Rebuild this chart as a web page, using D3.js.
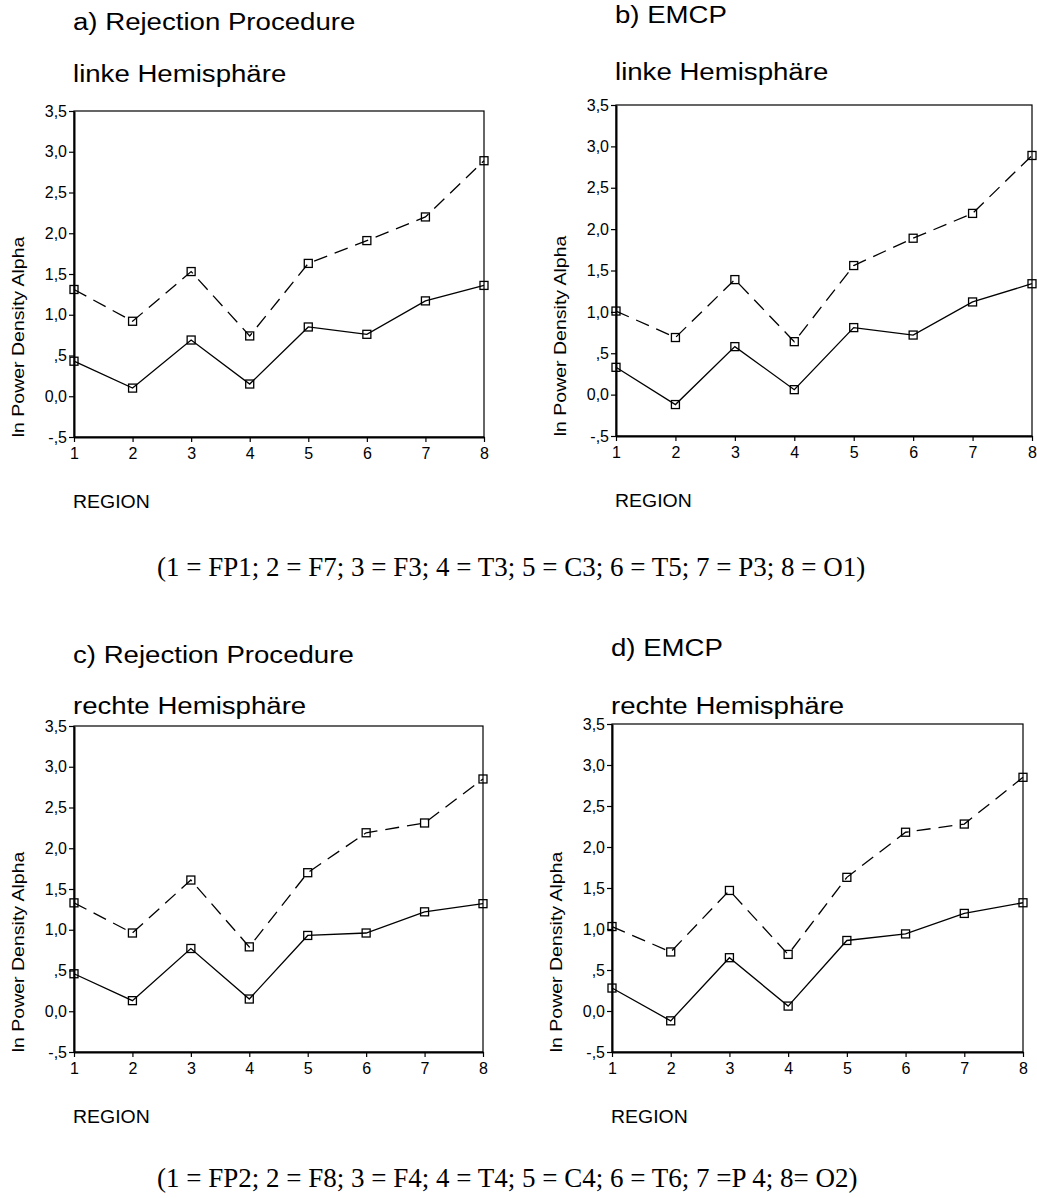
<!DOCTYPE html>
<html>
<head>
<meta charset="utf-8">
<script src="https://cdn.jsdelivr.net/npm/d3@7"></script>
<style>
  body { margin: 0; background: #fff; }
  text { fill: #000; }
</style>
</head>
<body>
<script>
const width = 1037;
const height = 1198;

// data
const regions = [1, 2, 3, 4, 5, 6, 7, 8];
const regionLabels = ["1", "2", "3", "4", "5", "6", "7", "8"];
const yTicks = [-0.5, 0, 0.5, 1, 1.5, 2, 2.5, 3, 3.5];
const yTickLabels = ["-,5", "0,0", ",5", "1,0", "1,5", "2,0", "2,5", "3,0", "3,5"];

const aDashed = [1.31, 0.92, 1.53, 0.74, 1.63, 1.91, 2.20, 2.89];
const aSolid  = [0.43, 0.10, 0.69, 0.15, 0.85, 0.76, 1.17, 1.36];
const bDashed = [1.01, 0.69, 1.39, 0.64, 1.56, 1.89, 2.19, 2.89];
const bSolid  = [0.33, -0.12, 0.58, 0.06, 0.81, 0.72, 1.12, 1.34];
const cDashed = [1.33, 0.96, 1.61, 0.79, 1.70, 2.19, 2.31, 2.85];
const cSolid  = [0.46, 0.13, 0.77, 0.15, 0.93, 0.96, 1.22, 1.32];
const dDashed = [1.03, 0.72, 1.47, 0.69, 1.63, 2.18, 2.28, 2.85];
const dSolid  = [0.28, -0.12, 0.65, 0.06, 0.86, 0.94, 1.19, 1.32];

const titles = ["a) Rejection Procedure", "b) EMCP", "c) Rejection Procedure", "d) EMCP"];
const subtitles = ["linke Hemisphäre", "linke Hemisphäre", "rechte Hemisphäre", "rechte Hemisphäre"];
const yLabel = "ln Power Density Alpha";
const xLabel = "REGION";
const footnotes = [
  "(1 = FP1; 2 = F7; 3 = F3; 4 = T3; 5 = C3; 6 = T5; 7 = P3; 8 = O1)",
  "(1 = FP2; 2 = F8; 3 = F4; 4 = T4; 5 = C4; 6 = T6; 7 =P 4; 8= O2)"
];

// plot boxes: left, right, top (3.5), bottom (-0.5)
const panels = [
  {x0: 74,  x1: 484,  y0: 111, y1: 437,  titleY: 30,  subY: 82,  dashed: aDashed, solid: aSolid},
  {x0: 616, x1: 1032, y0: 105, y1: 436,  titleY: 23,  subY: 80,  dashed: bDashed, solid: bSolid},
  {x0: 74,  x1: 483,  y0: 726, y1: 1052, titleY: 663, subY: 714, dashed: cDashed, solid: cSolid},
  {x0: 612, x1: 1023, y0: 724, y1: 1052, titleY: 656, subY: 714, dashed: dDashed, solid: dSolid}
];

const svg = d3.select("body").append("svg")
    .attr("width", width)
    .attr("height", height);

const sans = "Arial, 'Liberation Sans', Helvetica, sans-serif";

// widen text a bit, the original glyphs are stretched horizontally
function stretch(sel, factor) {
  sel.each(function() {
    const len = this.getComputedTextLength();
    d3.select(this)
      .attr("textLength", len * factor)
      .attr("lengthAdjust", "spacingAndGlyphs");
  });
}

panels.forEach((p, i) => {
  const x = d3.scaleLinear().domain([1, 8]).range([p.x0, p.x1]);
  const y = d3.scaleLinear().domain([-0.5, 3.5]).range([p.y1, p.y0]);
  const g = svg.append("g");

  g.append("text")
    .attr("x", p.x0 - 1)
    .attr("y", p.titleY)
    .attr("font-family", sans)
    .attr("font-size", 23)
    .text(titles[i])
    .call(stretch, 1.2);

  g.append("text")
    .attr("x", p.x0 - 1)
    .attr("y", p.subY)
    .attr("font-family", sans)
    .attr("font-size", 23)
    .text(subtitles[i])
    .call(stretch, 1.2);

  // frame
  g.append("rect")
    .attr("x", p.x0)
    .attr("y", p.y0)
    .attr("width", p.x1 - p.x0)
    .attr("height", p.y1 - p.y0)
    .attr("fill", "none")
    .attr("stroke", "#000")
    .attr("stroke-width", 1.2);

  const yAxis = g.append("g")
    .attr("transform", `translate(${p.x0},0)`)
    .call(d3.axisLeft(y)
      .tickValues(yTicks)
      .tickFormat((d, k) => yTickLabels[k])
      .tickSize(5)
      .tickSizeOuter(0)
      .tickPadding(2));

  const xAxis = g.append("g")
    .attr("transform", `translate(0,${p.y1})`)
    .call(d3.axisBottom(x)
      .tickValues(regions)
      .tickFormat((d, k) => regionLabels[k])
      .tickSize(5)
      .tickSizeOuter(0)
      .tickPadding(6));

  [yAxis, xAxis].forEach(ax => {
    ax.select(".domain").attr("stroke-width", 2);
    ax.selectAll(".tick line").attr("stroke-width", 1.2);
    ax.selectAll("text")
      .attr("font-family", sans)
      .attr("font-size", 16)
      .attr("fill", "#000");
  });

  g.append("text")
    .attr("transform", `translate(${p.x0 - 50},${p.y1 - 100}) rotate(-90)`)
    .attr("text-anchor", "middle")
    .attr("font-family", sans)
    .attr("font-size", 16)
    .text(yLabel)
    .call(stretch, 1.22);

  g.append("text")
    .attr("x", p.x0 - 1)
    .attr("y", p.y1 + 71)
    .attr("font-family", sans)
    .attr("font-size", 18)
    .text(xLabel)
    .call(stretch, 1.08);

  const line = d3.line()
    .x((d, k) => x(regions[k]))
    .y(d => y(d));

  g.append("path")
    .datum(p.dashed)
    .attr("d", line)
    .attr("fill", "none")
    .attr("stroke", "#000")
    .attr("stroke-width", 1.3)
    .attr("stroke-dasharray", "14,8");

  g.append("path")
    .datum(p.solid)
    .attr("d", line)
    .attr("fill", "none")
    .attr("stroke", "#000")
    .attr("stroke-width", 1.3);

  [p.dashed, p.solid].forEach(series => {
    g.selectAll(null)
      .data(series)
      .enter().append("rect")
      .attr("x", (d, k) => x(regions[k]) - 4)
      .attr("y", d => y(d) - 4)
      .attr("width", 8)
      .attr("height", 8)
      .attr("fill", "none")
      .attr("stroke", "#000")
      .attr("stroke-width", 1.3);
  });
});

svg.selectAll(".foot")
  .data(footnotes)
  .enter().append("text")
  .attr("class", "foot")
  .attr("x", 157)
  .attr("y", (d, i) => i === 0 ? 576 : 1187)
  .attr("font-family", "'Times New Roman', 'Liberation Serif', serif")
  .attr("font-size", 27)
  .text(d => d);
</script>
</body>
</html>
